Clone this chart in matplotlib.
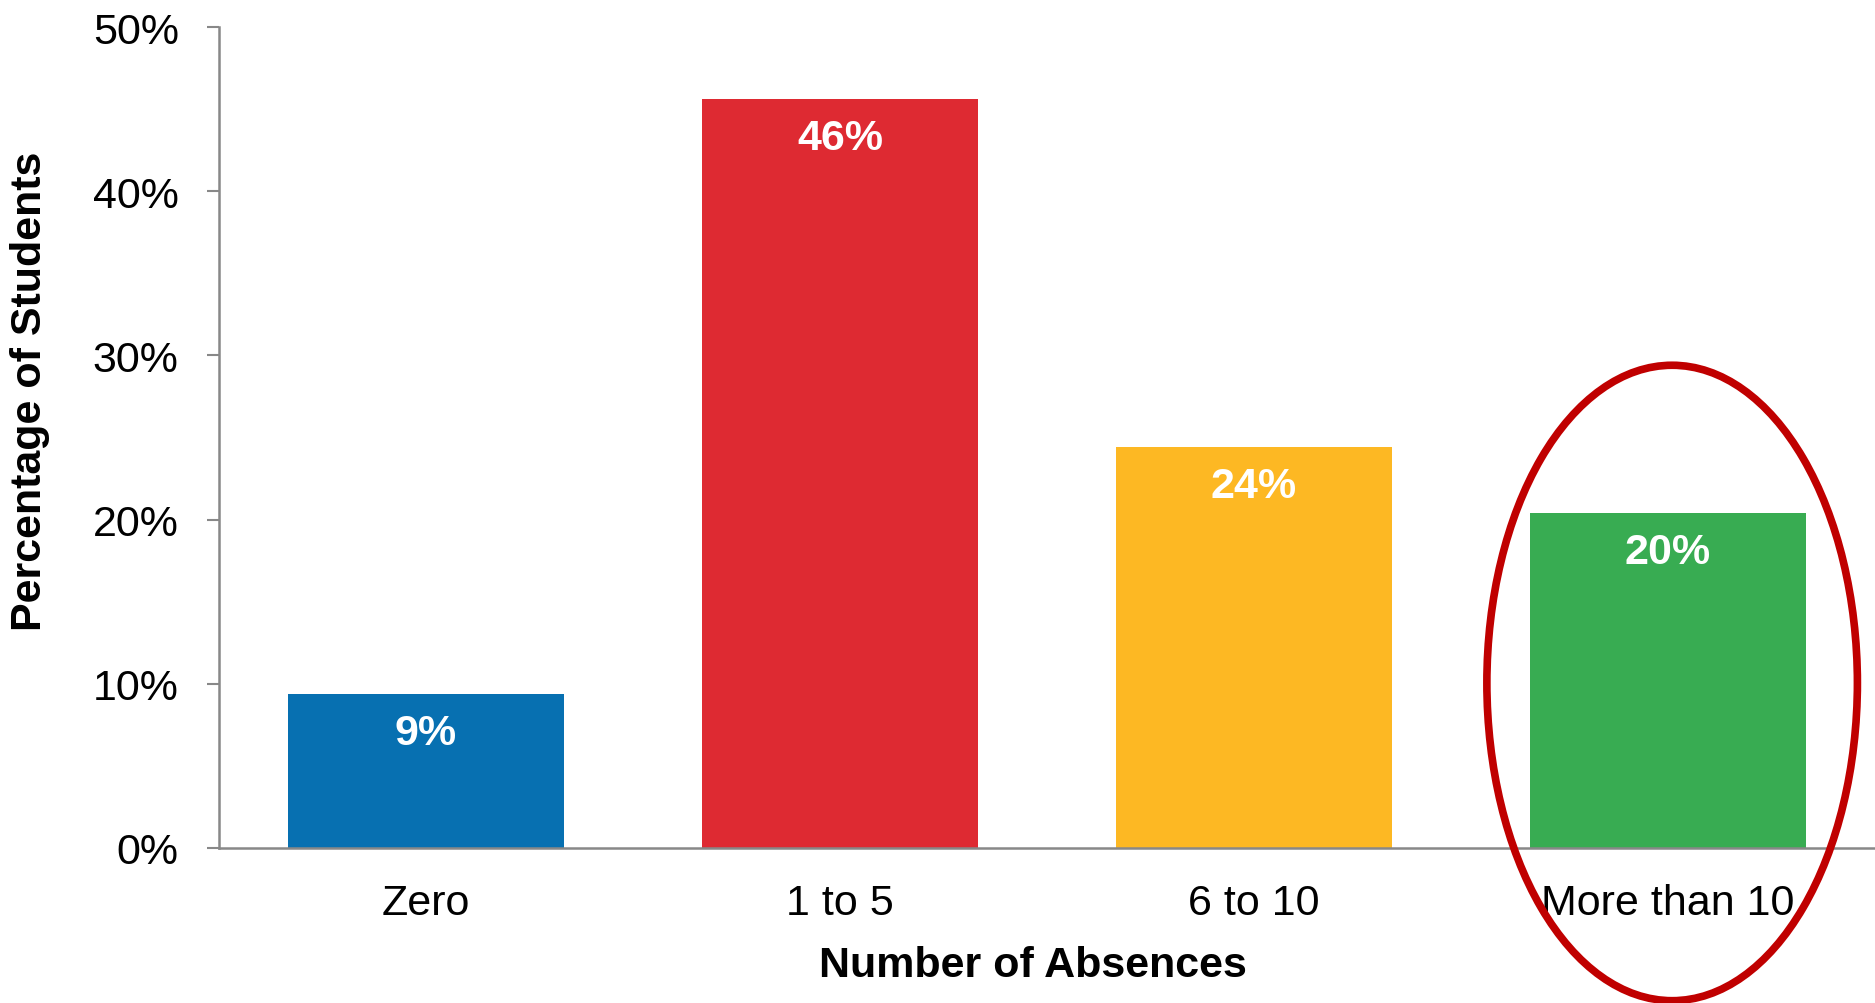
import matplotlib.pyplot as plt
import matplotlib.patches as mpatches
import numpy as np

plt.rcParams['font.family'] = ['Liberation Sans', 'DejaVu Sans']

# --- Data ---
categories = ['Zero', '1 to 5', '6 to 10', 'More than 10']
percents = [9.4, 45.6, 24.4, 20.4]
bar_labels = ['9%', '46%', '24%', '20%']
colors = ['#0770B1', '#DE2A32', '#FDB823', '#38AC52']
yticks = [0, 10, 20, 30, 40, 50]

fig = plt.figure(figsize=(18.75, 10.04), dpi=100)
ax = fig.add_axes([0.1168, 0.1544, 0.8832, 0.8177])

x = np.arange(len(categories))
ax.bar(x, percents, width=0.667, color=colors, zorder=2)

for xi, val, lab in zip(x, percents, bar_labels):
    ax.annotate(lab, (xi, val), xytext=(0, -28), textcoords='offset points',
                ha='center', va='center', fontsize=31, fontweight='bold',
                color='white')

ax.set_xlim(-0.5, 3.5)
ax.set_ylim(0, 50)
ax.set_yticks(yticks)
ax.set_yticklabels([f'{t}%' for t in yticks], fontsize=31)
ax.set_xticks(x)
ax.set_xticklabels(categories, fontsize=31)
ax.tick_params(axis='x', length=0, pad=25)
ax.tick_params(axis='y', length=9, width=1.5, color='#888888', pad=20)

for s in ['top', 'right']:
    ax.spines[s].set_visible(False)
for s in ['left', 'bottom']:
    ax.spines[s].set_color('#888888')
    ax.spines[s].set_linewidth(1.8)
ax.spines['bottom'].set_zorder(3)

ax.set_xlabel('Number of Absences', fontsize=31, fontweight='bold')
ax.set_ylabel('Percentage of Students', fontsize=31, fontweight='bold')
ax.xaxis.set_label_coords(0.4915, -0.118)
ax.yaxis.set_label_coords(-0.102, 0.557)

# highlight circle round the last bar
ell = mpatches.Ellipse((3.01, 10.05), width=0.895, height=38.7, fill=False,
                       edgecolor='#C00000', linewidth=5.5, clip_on=False, zorder=4)
ax.add_patch(ell)

plt.savefig('out.png', dpi=100, facecolor='white')
plt.close()
